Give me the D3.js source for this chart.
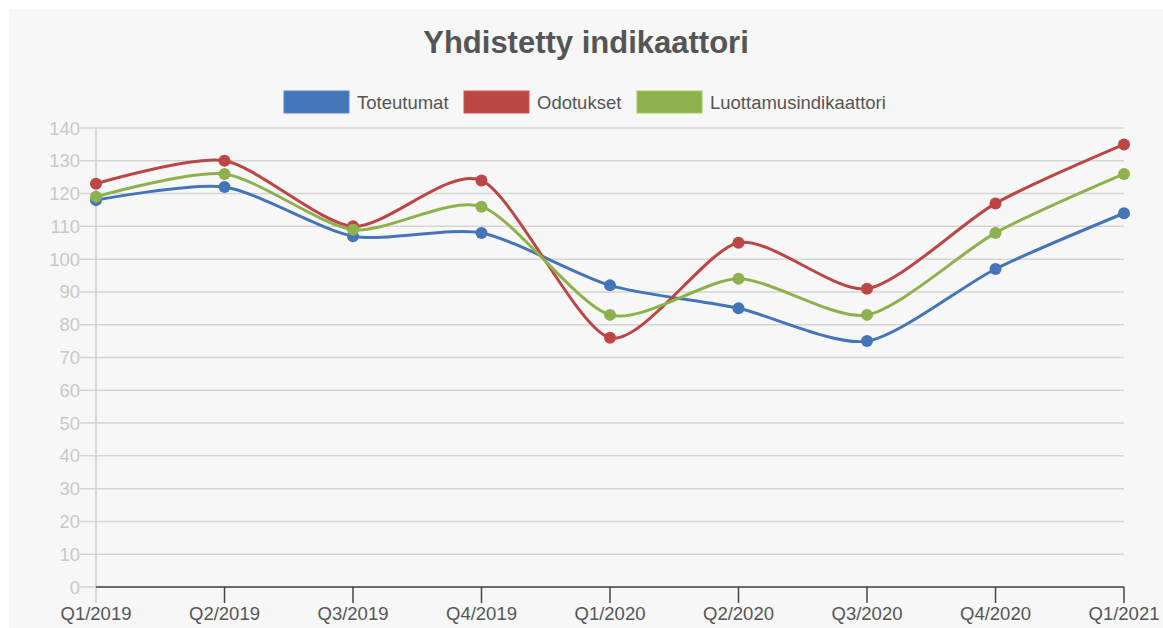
<!DOCTYPE html>
<html>
<head>
<meta charset="utf-8">
<script src="https://cdn.jsdelivr.net/npm/d3@7"></script>
<style>
  body { margin: 0; background: #fff; }
  svg { display: block; font-family: Arial, "Liberation Sans", sans-serif; }
</style>
</head>
<body>
<svg id="chart" width="1163" height="628"></svg>
<script>
var quarters = ['Q1/2019', 'Q2/2019', 'Q3/2019', 'Q4/2019', 'Q1/2020', 'Q2/2020', 'Q3/2020', 'Q4/2020', 'Q1/2021'];
var toteutumat = [118, 122, 107, 108, 92, 85, 75, 97, 114];
var odotukset = [123, 130, 110, 124, 76, 105, 91, 117, 135];
var luottamus = [119, 126, 109, 116, 83, 94, 83, 108, 126];
var seriesNames = ['Toteutumat', 'Odotukset', 'Luottamusindikaattori'];
var yTicks = [0, 10, 20, 30, 40, 50, 60, 70, 80, 90, 100, 110, 120, 130, 140];

var colors = ['#4575b9', '#bb4644', '#8db24d'];
var series = [toteutumat, odotukset, luottamus];

var svg = d3.select('#chart');

// panel background
svg.append('rect')
  .attr('x', 9).attr('y', 9)
  .attr('width', 1154).attr('height', 619)
  .attr('fill', '#f7f7f7');

var x = d3.scalePoint().domain(quarters).range([96, 1124]);
var y = d3.scaleLinear().domain([0, 140]).range([587, 128]);

// title
svg.append('text')
  .attr('x', 586).attr('y', 53)
  .attr('text-anchor', 'middle')
  .attr('font-size', 31).attr('font-weight', 'bold')
  .attr('fill', '#555')
  .text('Yhdistetty indikaattori');

// legend
var legendX = [284, 464, 637];
seriesNames.forEach(function(name, i) {
  svg.append('rect')
    .attr('x', legendX[i]).attr('y', 91)
    .attr('width', 65).attr('height', 22)
    .attr('fill', colors[i])
    .attr('stroke', d3.color(colors[i]).brighter(0.4))
    .attr('stroke-width', 1);
  svg.append('text')
    .attr('x', legendX[i] + 73).attr('y', 109)
    .attr('font-size', 18.5).attr('fill', '#555')
    .text(name);
});

// y gridlines and labels
var yAxis = svg.append('g');
yTicks.forEach(function(t) {
  yAxis.append('line')
    .attr('x1', 80).attr('x2', 1124)
    .attr('y1', y(t)).attr('y2', y(t))
    .attr('stroke', '#d5d5d5').attr('stroke-width', 1.5);
  yAxis.append('text')
    .attr('x', 80).attr('y', y(t) + 6.5)
    .attr('text-anchor', 'end')
    .attr('font-size', 18.5).attr('fill', '#c8c8c8')
    .text(t);
});

// y axis line
svg.append('line')
  .attr('x1', 96).attr('x2', 96)
  .attr('y1', y(140)).attr('y2', 603)
  .attr('stroke', '#cfcfcf').attr('stroke-width', 1.5);

// x axis
svg.append('line')
  .attr('x1', 96).attr('x2', 1124)
  .attr('y1', y(0)).attr('y2', y(0))
  .attr('stroke', '#444').attr('stroke-width', 1.5);

quarters.forEach(function(q, i) {
  if (i > 0) {
    svg.append('line')
      .attr('x1', x(q)).attr('x2', x(q))
      .attr('y1', y(0)).attr('y2', 603)
      .attr('stroke', '#444').attr('stroke-width', 1.5);
  }
  svg.append('text')
    .attr('x', x(q)).attr('y', 620)
    .attr('text-anchor', 'middle')
    .attr('font-size', 18.5).attr('fill', '#555')
    .text(q);
});

// lines
var line = d3.line()
  .x(function(d, i) { return x(quarters[i]); })
  .y(function(d) { return y(d); })
  .curve(d3.curveCardinal.tension(0.25));

series.forEach(function(values, s) {
  svg.append('path')
    .datum(values)
    .attr('d', line)
    .attr('fill', 'none')
    .attr('stroke', colors[s])
    .attr('stroke-width', 3);
});

series.forEach(function(values, s) {
  svg.selectAll('circle.s' + s)
    .data(values)
    .enter().append('circle')
    .attr('class', 's' + s)
    .attr('cx', function(d, i) { return x(quarters[i]); })
    .attr('cy', function(d) { return y(d); })
    .attr('r', 6)
    .attr('fill', colors[s]);
});
</script>
</body>
</html>
